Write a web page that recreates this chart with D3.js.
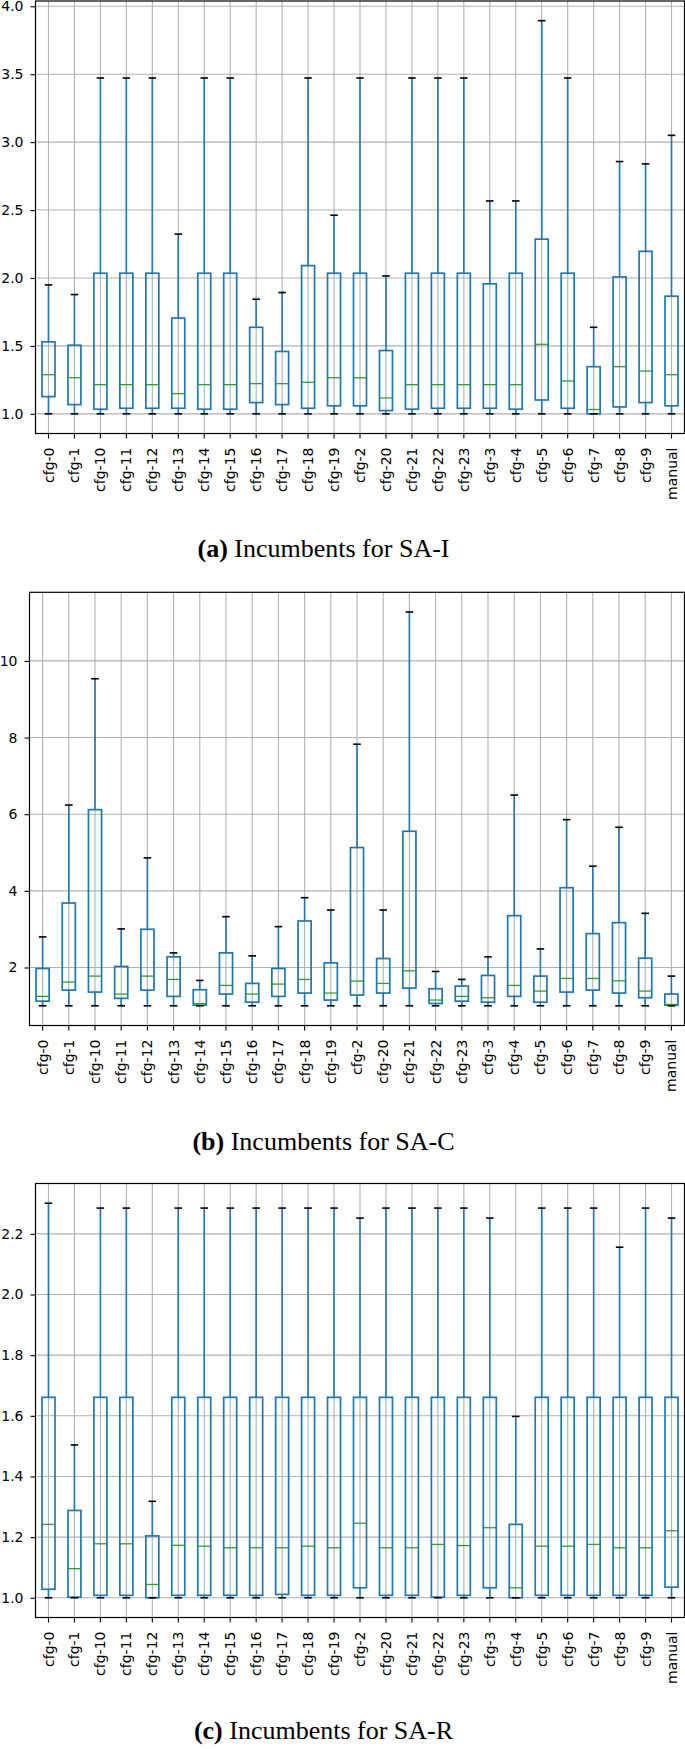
<!DOCTYPE html>
<html><head><meta charset="utf-8">
<script src="https://cdn.jsdelivr.net/npm/d3@7"></script>
<style>body{margin:0;background:#fff} svg{display:block}</style>
</head><body>
<svg id="chart" width="685" height="1749"></svg>
<script>
const categories = ["cfg-0","cfg-1","cfg-10","cfg-11","cfg-12","cfg-13","cfg-14","cfg-15","cfg-16","cfg-17","cfg-18","cfg-19","cfg-2","cfg-20","cfg-21","cfg-22","cfg-23","cfg-3","cfg-4","cfg-5","cfg-6","cfg-7","cfg-8","cfg-9","manual"];

// (a) SA-I
const aMin = [1,1,1,1,1,1,1,1,1,1,1,1,1,1,1,1,1,1,1,1,1,1,1,1,1];
const aQ1  = [1.127,1.068,1.034,1.041,1.041,1.041,1.034,1.034,1.083,1.068,1.041,1.059,1.059,1.024,1.034,1.041,1.041,1.041,1.034,1.102,1.041,1.0,1.051,1.083,1.059];
const aMed = [1.288,1.266,1.215,1.215,1.215,1.149,1.215,1.215,1.222,1.222,1.232,1.266,1.266,1.117,1.215,1.215,1.215,1.215,1.215,1.512,1.242,1.032,1.347,1.315,1.288];
const aQ3  = [1.530,1.505,2.035,2.035,2.035,1.705,2.035,2.035,1.637,1.459,2.091,2.035,2.035,1.466,2.035,2.035,2.035,1.957,2.035,2.286,2.035,1.347,2.008,2.196,1.866];
const aMax = [1.949,1.878,3.472,3.472,3.472,2.323,3.472,3.472,1.844,1.893,3.472,2.462,3.472,2.015,3.472,3.472,3.472,2.567,2.567,3.894,3.472,1.637,2.857,2.840,3.050];
const aTicks = [1.0,1.5,2.0,2.5,3.0,3.5,4.0];

// (b) SA-C
const bMin = [1,1,1,1,1,1,1,1,1,1,1,1,1,1,1,1,1,1,1,1,1,1,1,1,1];
const bQ1  = [1.121,1.410,1.358,1.194,1.410,1.246,1.017,1.306,1.095,1.246,1.332,1.150,1.280,1.332,1.462,1.061,1.121,1.095,1.246,1.095,1.358,1.410,1.332,1.211,1.017];
const bMed = [1.246,1.619,1.775,1.306,1.775,1.688,1.055,1.532,1.306,1.567,1.688,1.332,1.645,1.584,1.913,1.150,1.246,1.211,1.532,1.384,1.714,1.714,1.653,1.384,1.035];
const bQ3  = [1.974,3.682,6.118,2.026,2.997,2.277,1.419,2.381,1.584,1.974,3.214,2.121,5.130,2.234,5.554,1.445,1.515,1.792,3.352,1.775,4.081,2.884,3.170,2.243,1.306];
const bMax = [2.798,6.239,9.534,3.006,4.861,2.381,1.662,3.326,2.303,3.066,3.821,3.500,7.826,3.500,11.276,1.896,1.688,2.277,6.499,2.485,5.858,4.644,5.658,3.413,1.775];
const bTicks = [2,4,6,8,10];

// (c) SA-R
const cMin = [1,1,1,1,1,1,1,1,1,1,1,1,1,1,1,1,1,1,1,1,1,1,1,1,1];
const cQ1  = [1.028,1.002,1.008,1.008,1.0,1.008,1.008,1.008,1.008,1.011,1.008,1.008,1.033,1.008,1.008,1.002,1.008,1.033,1.0,1.008,1.008,1.008,1.008,1.008,1.035];
const cMed = [1.242,1.096,1.178,1.178,1.044,1.173,1.170,1.165,1.165,1.165,1.170,1.165,1.246,1.165,1.165,1.176,1.172,1.231,1.033,1.170,1.170,1.176,1.165,1.165,1.221];
const cQ3  = [1.661,1.288,1.661,1.661,1.204,1.661,1.661,1.661,1.661,1.661,1.661,1.661,1.661,1.661,1.661,1.661,1.661,1.661,1.242,1.661,1.661,1.661,1.661,1.661,1.661];
const cMax = [2.301,1.504,2.285,2.285,1.318,2.285,2.285,2.285,2.285,2.285,2.285,2.285,2.252,2.285,2.285,2.285,2.285,2.252,1.598,2.285,2.285,2.285,2.156,2.285,2.252];
const cTicks = [1.0,1.2,1.4,1.6,1.8,2.0,2.2];

const captionTags = ["(a)","(b)","(c)"];
const captionTexts = [" Incumbents for SA-I"," Incumbents for SA-C"," Incumbents for SA-R"];

const panels = [
  {min:aMin,q1:aQ1,med:aMed,q3:aQ3,max:aMax,ticks:aTicks,fmt:d3.format(".1f"),left:35.5,right:684.5,top:1,bottom:433.5,capY:556.7},
  {min:bMin,q1:bQ1,med:bMed,q3:bQ3,max:bMax,ticks:bTicks,fmt:d3.format("d"),left:29.5,right:684.5,top:592.3,bottom:1025.5,capY:1150},
  {min:cMin,q1:cQ1,med:cMed,q3:cQ3,max:cMax,ticks:cTicks,fmt:d3.format(".1f"),left:35.5,right:684.5,top:1183.5,bottom:1617.5,capY:1739.3}
];

const svg = d3.select("#chart");
const BLUE = "#1f77b4", GREEN = "#2ca02c", GRID = "#b0b0b0";
const tickFont = "DejaVu Sans, sans-serif";

panels.forEach((p, i) => {
  const lo = d3.min(p.min), hi = d3.max(p.max), pad = (hi - lo) * 0.05;
  const y = d3.scaleLinear().domain([lo - pad, hi + pad]).range([p.bottom, p.top]);
  const x = d3.scaleBand().domain(categories).range([p.left, p.right]).padding(0);
  const bw = x.bandwidth();
  const cx = c => x(c) + bw / 2;
  const g = svg.append("g");

  // grid
  const grid = g.append("g");
  grid.selectAll("line.vg").data(categories).join("line")
    .attr("x1", cx).attr("x2", cx).attr("y1", p.top).attr("y2", p.bottom)
    .attr("stroke", GRID).attr("stroke-width", 1.1);
  grid.selectAll("line.hg").data(p.ticks).join("line")
    .attr("x1", p.left).attr("x2", p.right).attr("y1", d => y(d)).attr("y2", d => y(d))
    .attr("stroke", GRID).attr("stroke-width", 1.1);

  const data = categories.map((c, k) => ({c, min:p.min[k], q1:p.q1[k], med:p.med[k], q3:p.q3[k], max:p.max[k]}));
  const boxes = g.append("g").selectAll("g").data(data).join("g");
  // whiskers
  boxes.append("line").attr("x1", d => cx(d.c)).attr("x2", d => cx(d.c))
    .attr("y1", d => y(d.q3)).attr("y2", d => y(d.max)).attr("stroke", BLUE).attr("stroke-width", 1.6);
  boxes.append("line").attr("x1", d => cx(d.c)).attr("x2", d => cx(d.c))
    .attr("y1", d => y(d.q1)).attr("y2", d => y(d.min)).attr("stroke", BLUE).attr("stroke-width", 1.6);
  // box
  boxes.append("rect").attr("x", d => cx(d.c) - bw * 0.25).attr("width", bw * 0.5)
    .attr("y", d => y(d.q3)).attr("height", d => y(d.q1) - y(d.q3))
    .attr("fill", "none").attr("stroke", BLUE).attr("stroke-width", 1.7);
  // caps
  const cw = bw * 0.29;
  boxes.append("line").attr("x1", d => cx(d.c) - cw/2).attr("x2", d => cx(d.c) + cw/2)
    .attr("y1", d => y(d.max)).attr("y2", d => y(d.max)).attr("stroke", "#000").attr("stroke-width", 1.6);
  boxes.append("line").attr("x1", d => cx(d.c) - cw/2).attr("x2", d => cx(d.c) + cw/2)
    .attr("y1", d => y(d.min)).attr("y2", d => y(d.min)).attr("stroke", "#000").attr("stroke-width", 1.6);
  // median
  boxes.append("line").attr("x1", d => cx(d.c) - bw * 0.25).attr("x2", d => cx(d.c) + bw * 0.25)
    .attr("y1", d => y(d.med)).attr("y2", d => y(d.med)).attr("stroke", GREEN).attr("stroke-width", 1.3);

  // frame
  g.append("rect").attr("x", p.left).attr("y", p.top).attr("width", p.right - p.left).attr("height", p.bottom - p.top)
    .attr("fill", "none").attr("stroke", "#000").attr("stroke-width", 1.2);

  // axes
  const xa = g.append("g").attr("transform", `translate(0,${p.bottom})`)
    .call(d3.axisBottom(x).tickSize(5).tickSizeOuter(0));
  xa.select(".domain").remove();
  xa.selectAll("line").attr("stroke", "#000").attr("stroke-width", 1.1);
  xa.selectAll("text").attr("transform", "rotate(-90)").attr("x", -14).attr("y", 0).attr("dy", "0.36em")
    .style("text-anchor", "end").style("font-family", tickFont).style("font-size", "14px").attr("fill", "#000");

  const ya = g.append("g").attr("transform", `translate(${p.left},0)`)
    .call(d3.axisLeft(y).tickValues(p.ticks).tickFormat(p.fmt).tickSize(5).tickPadding(7).tickSizeOuter(0));
  ya.select(".domain").remove();
  ya.selectAll("line").attr("stroke", "#000").attr("stroke-width", 1.1);
  ya.selectAll("text").style("font-family", tickFont).style("font-size", "14px").attr("fill", "#000");

  // caption
  const t = svg.append("text").attr("x", 323.5).attr("y", p.capY).attr("text-anchor", "middle")
    .style("font-family", "Liberation Serif, Times New Roman, serif").style("font-size", "26px").attr("fill", "#000");
  t.append("tspan").style("font-weight", "bold").text(captionTags[i]);
  t.append("tspan").text(captionTexts[i]);
});
</script>
</body></html>
